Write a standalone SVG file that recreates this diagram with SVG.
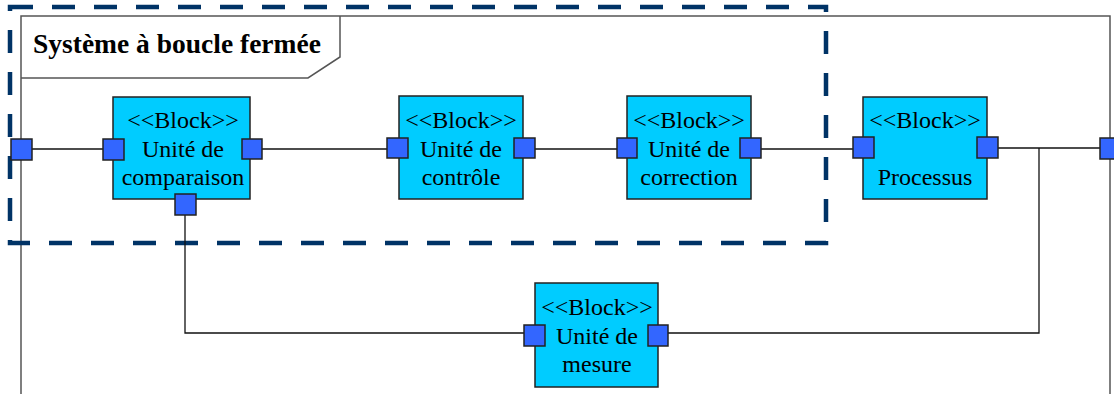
<svg xmlns="http://www.w3.org/2000/svg" width="1114" height="394" viewBox="0 0 1114 394">
<style>
.blk{fill:#00ccff;stroke:#222;stroke-width:1.5}
.port{fill:#3366ff;stroke:#222;stroke-width:1.5}
.frame{fill:none;stroke:#555;stroke-width:1.5}
.wire{fill:none;stroke:#111;stroke-width:1.3}
.t{font-family:"Liberation Serif","Times New Roman",serif;font-size:24px;fill:#000;text-anchor:middle}
.title{font-family:"Liberation Serif","Times New Roman",serif;font-size:27.5px;font-weight:bold;fill:#000}
.dash{fill:none;stroke:#003366;stroke-width:4.5;stroke-dasharray:23 19}
</style>
<rect width="1114" height="394" fill="#fff"/>
<g id="frame">
<path class="frame" d="M21,394 V16 H1110 V394"/>
<path class="frame" d="M21,78 H308 L340,57 V16" fill="#fff"/>
<text class="title" x="33" y="53">Système à boucle fermée</text>
</g>
<g id="closed-loop-boundary">
<rect class="dash" x="10" y="7" width="816" height="236"/>
</g>
<g id="connectors">
<path class="wire" d="M32,149 H103"/>
<path class="wire" d="M262,149 H387"/>
<path class="wire" d="M535,149 H617"/>
<path class="wire" d="M761,149 H853"/>
<path class="wire" d="M998,148 H1100"/>
<path class="wire" d="M1039,148 V333 H668"/>
<path class="wire" d="M185,215 V333 H524"/>
</g>
<g id="frame-port-left"><rect class="port" x="11" y="139" width="21" height="21"/></g>
<g id="frame-port-right"><rect class="port" x="1100" y="138" width="21" height="21"/></g>
<g id="comparaison">
<rect class="blk" x="113" y="97" width="137" height="102"/>
<text class="t" x="183" y="128">&lt;&lt;Block&gt;&gt;</text>
<text class="t" x="183" y="157">Unité de</text>
<text class="t" x="183" y="185">comparaison</text>
<rect class="port" x="103" y="139" width="21" height="21"/>
<rect class="port" x="242" y="139" width="20" height="20"/>
<rect class="port" x="175" y="194" width="21" height="21"/>
</g>
<g id="controle">
<rect class="blk" x="399" y="96" width="124" height="103"/>
<text class="t" x="461" y="128">&lt;&lt;Block&gt;&gt;</text>
<text class="t" x="461" y="157">Unité de</text>
<text class="t" x="461" y="185">contrôle</text>
<rect class="port" x="387" y="138" width="21" height="20"/>
<rect class="port" x="514" y="138" width="21" height="20"/>
</g>
<g id="correction">
<rect class="blk" x="627" y="96" width="124" height="103"/>
<text class="t" x="689" y="128">&lt;&lt;Block&gt;&gt;</text>
<text class="t" x="689" y="157">Unité de</text>
<text class="t" x="689" y="185">correction</text>
<rect class="port" x="617" y="138" width="20" height="20"/>
<rect class="port" x="740" y="138" width="21" height="20"/>
</g>
<g id="processus">
<rect class="blk" x="863" y="97" width="124" height="102"/>
<text class="t" x="925" y="128">&lt;&lt;Block&gt;&gt;</text>
<text class="t" x="925" y="185">Processus</text>
<rect class="port" x="853" y="137" width="21" height="21"/>
<rect class="port" x="977" y="137" width="21" height="21"/>
</g>
<g id="mesure">
<rect class="blk" x="535" y="283" width="123" height="104"/>
<text class="t" x="597" y="315">&lt;&lt;Block&gt;&gt;</text>
<text class="t" x="597" y="344">Unité de</text>
<text class="t" x="597" y="372">mesure</text>
<rect class="port" x="524" y="325" width="21" height="21"/>
<rect class="port" x="648" y="325" width="20" height="21"/>
</g>
</svg>
